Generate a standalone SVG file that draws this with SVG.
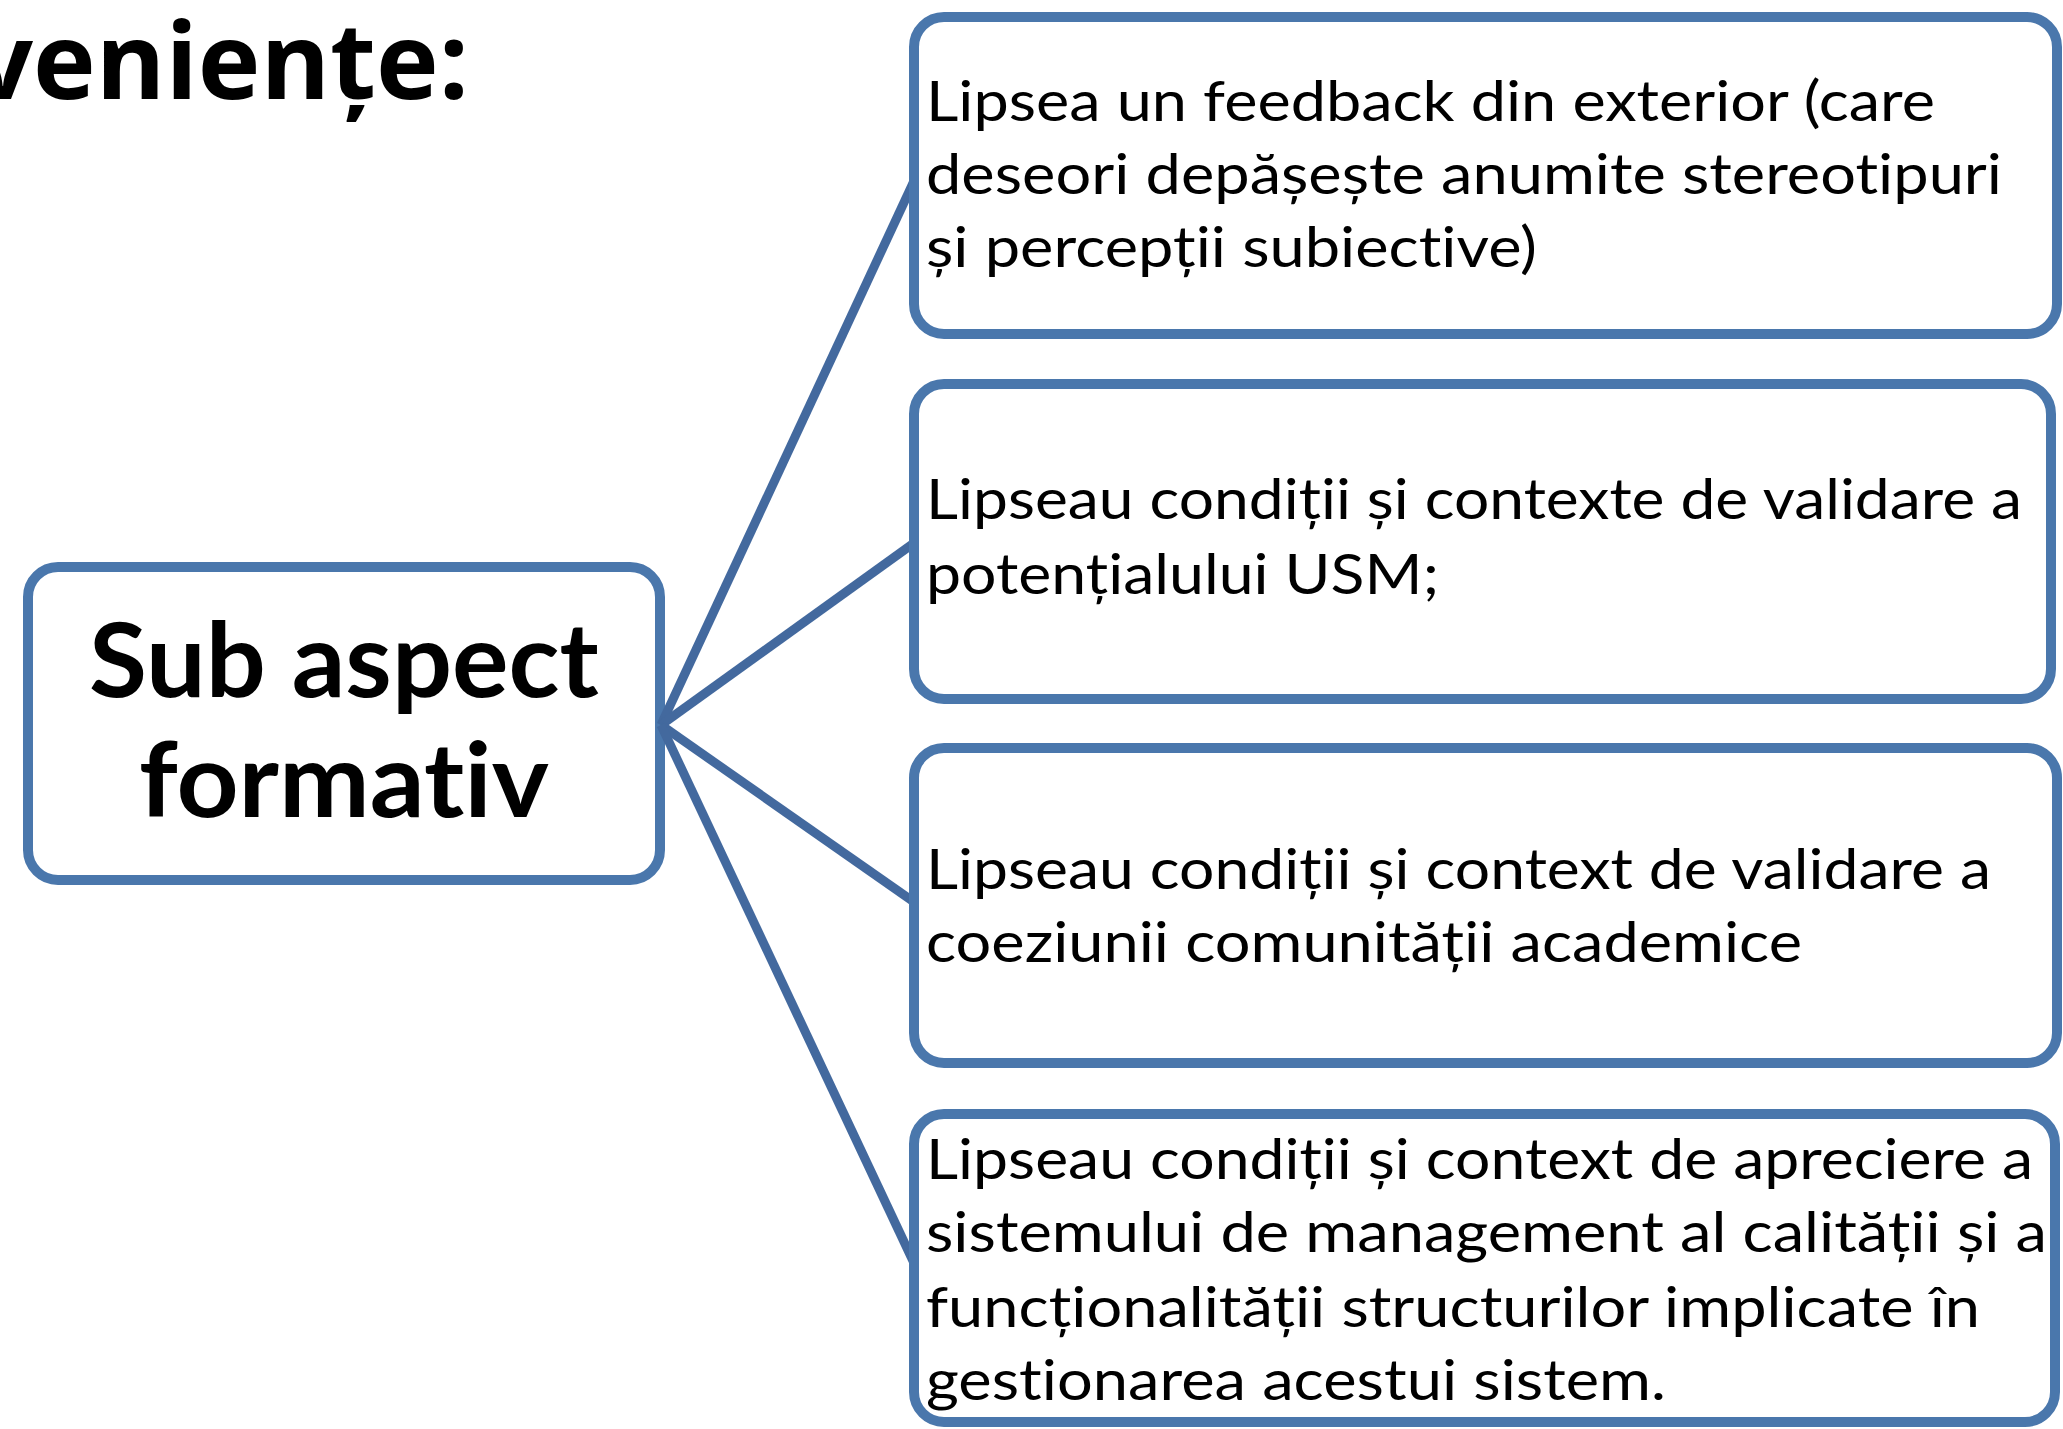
<svg xmlns="http://www.w3.org/2000/svg" width="2063" height="1429" viewBox="0 0 2063 1429">
<style>
.box{fill:#ffffff;stroke:#4A77AC;stroke-width:10}
.conn{stroke:#43699E;stroke-width:9;fill:none;stroke-linecap:butt}
text{font-variant-ligatures:none;font-feature-settings:"liga" 0,"dlig" 0,"calt" 0,"clig" 0;letter-spacing:0.01px}
.t{font-family:Lato,"Open Sans","Liberation Sans",sans-serif;font-size:57px;fill:#000000}
.hub{font-family:Lato,"Open Sans","Liberation Sans",sans-serif;font-size:103px;font-weight:bold;fill:#000000}
.title{font-family:"Open Sans","Noto Sans","Liberation Sans",sans-serif;font-size:106px;font-weight:bold;fill:#000000}
</style>
<rect width="2063" height="1429" fill="#ffffff"/>
<text class="title" x="469" y="99" text-anchor="end">venien&#x021B;e:</text>
<g id="node-hub">
<rect class="box" x="28" y="567" width="632" height="313" rx="30" ry="30"/>
<text class="hub" x="344" y="697" text-anchor="middle" textLength="510" lengthAdjust="spacingAndGlyphs">Sub aspect</text>
<text class="hub" x="344" y="817" text-anchor="middle" textLength="410" lengthAdjust="spacingAndGlyphs">formativ</text>
</g>
<g id="connectors">
<line class="conn" x1="661" y1="725" x2="914" y2="181"/>
<line class="conn" x1="661" y1="725" x2="914" y2="543"/>
<line class="conn" x1="661" y1="725" x2="914" y2="902"/>
<line class="conn" x1="661" y1="725" x2="914" y2="1263"/>
</g>
<g id="node-1">
<rect class="box" x="914" y="17" width="1143" height="317" rx="30" ry="30"/>
<text class="t" x="926" y="121" textLength="1009" lengthAdjust="spacingAndGlyphs">Lipsea un feedback din exterior (care</text>
<text class="t" x="926" y="194" textLength="1076" lengthAdjust="spacingAndGlyphs">deseori depășește anumite stereotipuri</text>
<text class="t" x="926" y="267" textLength="611" lengthAdjust="spacingAndGlyphs">și percepții subiective)</text>
</g>
<g id="node-2">
<rect class="box" x="914" y="384" width="1137" height="315" rx="30" ry="30"/>
<text class="t" x="926" y="519" textLength="1096" lengthAdjust="spacingAndGlyphs">Lipseau condiții și contexte de validare a</text>
<text class="t" x="926" y="594" textLength="513" lengthAdjust="spacingAndGlyphs">potențialului USM;</text>
</g>
<g id="node-3">
<rect class="box" x="914" y="748" width="1143" height="315" rx="30" ry="30"/>
<text class="t" x="926" y="889" textLength="1065" lengthAdjust="spacingAndGlyphs">Lipseau condiții și context de validare a</text>
<text class="t" x="926" y="962" textLength="876" lengthAdjust="spacingAndGlyphs">coeziunii comunității academice</text>
</g>
<g id="node-4">
<rect class="box" x="914" y="1114" width="1141" height="308" rx="30" ry="30"/>
<text class="t" x="926" y="1179" textLength="1107" lengthAdjust="spacingAndGlyphs">Lipseau condiții și context de apreciere a</text>
<text class="t" x="926" y="1252" textLength="1121" lengthAdjust="spacingAndGlyphs">sistemului de management al calității și a</text>
<text class="t" x="926" y="1327" textLength="1054" lengthAdjust="spacingAndGlyphs">funcționalității structurilor implicate în</text>
<text class="t" x="926" y="1400" textLength="740" lengthAdjust="spacingAndGlyphs">gestionarea acestui sistem.</text>
</g>
</svg>
